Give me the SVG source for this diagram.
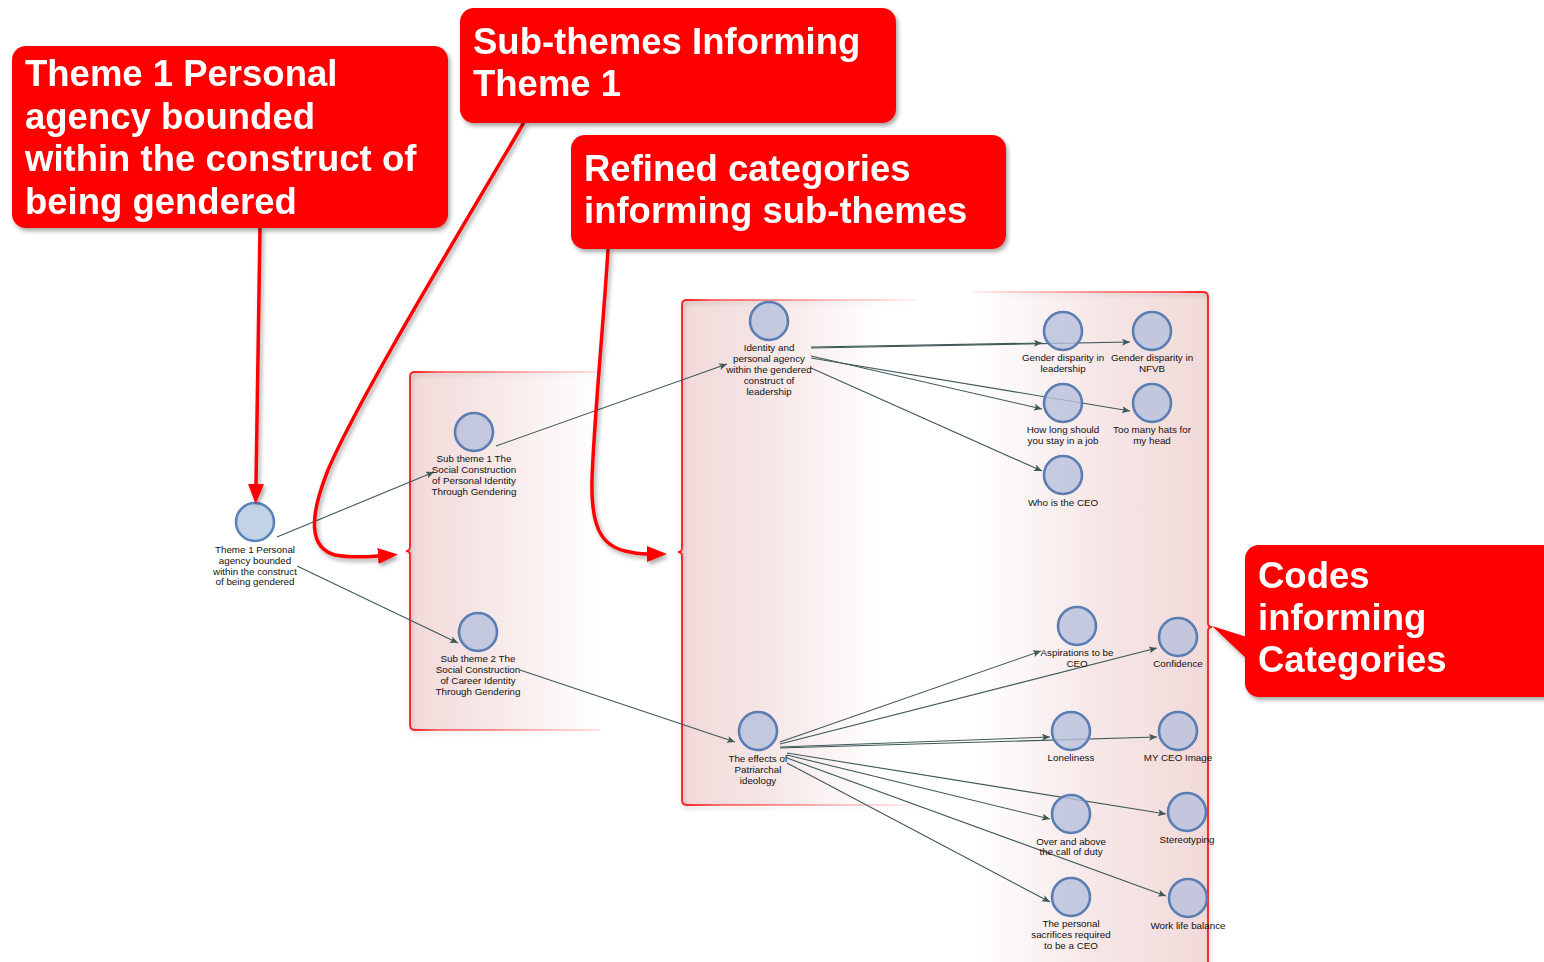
<svg xmlns="http://www.w3.org/2000/svg" width="1544" height="962" viewBox="0 0 1544 962">
  <defs>
    <style>
      .callout { fill: #ff0000; }
      .ctext { font-family: "Liberation Sans", Arial, sans-serif; font-weight: bold; font-size: 36.5px; fill: #ffffff; }
      .pointer { fill: none; stroke: #ff0000; stroke-width: 3.5; stroke-linecap: round; }
      .node { fill: #b6c1dc; fill-opacity: 0.8; stroke: #5a7db3; stroke-width: 2.6; }
      .root { fill: #c2d3e8; stroke: #5a84b8; stroke-width: 2.6; }
      .lbl { font-family: "Liberation Sans", Arial, sans-serif; font-size: 9.8px; fill: #111111; text-anchor: middle; }
      .edge { fill: none; stroke: #3f5858; stroke-width: 1.1; marker-end: url(#tip); }
      .frame { fill: none; stroke-width: 1.8; }
    </style>
    <marker id="tip" markerUnits="userSpaceOnUse" markerWidth="9" markerHeight="8" refX="8" refY="3.5" orient="auto">
      <path d="M0,0 L8,3.5 L0,7 L1.8,3.5 z" fill="#3f5858"/>
    </marker>
    <marker id="bigtip" markerUnits="userSpaceOnUse" markerWidth="21" markerHeight="16" refX="0" refY="8" orient="auto">
      <path d="M0,0 L20,8 L0,16 z" fill="#ff0000"/>
    </marker>
    <filter id="shadow" x="-10%" y="-10%" width="130%" height="130%">
      <feDropShadow dx="2" dy="3" stdDeviation="2" flood-color="#000" flood-opacity="0.35"/>
    </filter>
    <filter id="soft" x="-10%" y="-10%" width="130%" height="130%">
      <feDropShadow dx="1.5" dy="2.5" stdDeviation="2" flood-color="#000" flood-opacity="0.22"/>
    </filter>
    <!-- panel fills -->
    <linearGradient id="fillA" gradientUnits="userSpaceOnUse" x1="410" y1="0" x2="600" y2="0">
      <stop offset="0" stop-color="#f2d9d9"/>
      <stop offset="0.3" stop-color="#f5e3e3"/>
      <stop offset="1" stop-color="#ffffff"/>
    </linearGradient>
    <linearGradient id="fillB" gradientUnits="userSpaceOnUse" x1="682" y1="0" x2="915" y2="0">
      <stop offset="0" stop-color="#f2d9d9"/>
      <stop offset="0.3" stop-color="#f5e3e3"/>
      <stop offset="0.85" stop-color="#ffffff"/>
      <stop offset="1" stop-color="#ffffff"/>
    </linearGradient>
    <linearGradient id="fillC" gradientUnits="userSpaceOnUse" x1="973" y1="0" x2="1208" y2="0">
      <stop offset="0" stop-color="#ffffff"/>
      <stop offset="0.55" stop-color="#f6e6e6"/>
      <stop offset="1" stop-color="#f2d9d9"/>
    </linearGradient>
    <!-- panel borders -->
    <linearGradient id="edgeA" gradientUnits="userSpaceOnUse" x1="410" y1="0" x2="600" y2="0">
      <stop offset="0" stop-color="#ff1a1a" stop-opacity="1"/>
      <stop offset="0.15" stop-color="#ff1a1a" stop-opacity="0.6"/>
      <stop offset="1" stop-color="#ff1a1a" stop-opacity="0.1"/>
    </linearGradient>
    <linearGradient id="edgeB" gradientUnits="userSpaceOnUse" x1="682" y1="0" x2="915" y2="0">
      <stop offset="0" stop-color="#ff1a1a" stop-opacity="1"/>
      <stop offset="0.15" stop-color="#ff1a1a" stop-opacity="0.6"/>
      <stop offset="1" stop-color="#ff1a1a" stop-opacity="0.05"/>
    </linearGradient>
    <linearGradient id="edgeC" gradientUnits="userSpaceOnUse" x1="973" y1="0" x2="1208" y2="0">
      <stop offset="0" stop-color="#ff1a1a" stop-opacity="0.05"/>
      <stop offset="0.85" stop-color="#ff1a1a" stop-opacity="0.7"/>
      <stop offset="1" stop-color="#ff1a1a" stop-opacity="1"/>
    </linearGradient>
  </defs>

  <rect x="0" y="0" width="1544" height="962" fill="#ffffff"/>

  <!-- grouping panels -->
  <g id="panel-subthemes">
    <path d="M600,372 L415,372 Q410,372 410,377 L410,725 Q410,730 415,730 L600,730 Z" fill="url(#fillA)"/>
    <path class="frame" d="M600,372 L415,372 Q410,372 410,377 L410,547 Q410,551 406,551 Q410,551 410,555 L410,725 Q410,730 415,730 L600,730" stroke="url(#edgeA)" filter="url(#soft)"/>
  </g>
  <g id="panel-categories">
    <path d="M917,300 L687,300 Q682,300 682,305 L682,800 Q682,805 687,805 L917,805 Z" fill="url(#fillB)"/>
    <path class="frame" d="M917,300 L687,300 Q682,300 682,305 L682,548 Q682,552 678,552 Q682,552 682,556 L682,800 Q682,805 687,805 L917,805" stroke="url(#edgeB)" filter="url(#soft)"/>
  </g>
  <g id="panel-codes">
    <path d="M973,292 L1203,292 Q1208,292 1208,297 L1208,975 L973,975 Z" fill="url(#fillC)"/>
    <path class="frame" d="M973,292 L1203,292 Q1208,292 1208,297 L1208,623 Q1208,627 1212,627 Q1208,627 1208,631 L1208,975" stroke="url(#edgeC)" filter="url(#soft)"/>
  </g>

  <!-- connectors -->
  <g id="connectors">
    <path class="edge" d="M277,537 L434,472"/>
    <path class="edge" d="M297,566 L458,643"/>
    <path class="edge" d="M496,446 L727,364"/>
    <path class="edge" d="M520,670 L735,742"/>
    <path class="edge" d="M811,347 L1042,343"/>
    <path class="edge" d="M811,348 L1130,342"/>
    <path class="edge" d="M811,356 L1042,409"/>
    <path class="edge" d="M811,358 L1130,411"/>
    <path class="edge" d="M811,368 L1042,471"/>
    <path class="edge" d="M780,742 L1041,651"/>
    <path class="edge" d="M780,744 L1157,648"/>
    <path class="edge" d="M780,747 L1050,737"/>
    <path class="edge" d="M780,748 L1157,737"/>
    <path class="edge" d="M787,753 L1166,814"/>
    <path class="edge" d="M787,755 L1050,819"/>
    <path class="edge" d="M787,758 L1166,896"/>
    <path class="edge" d="M787,763 L1050,902"/>
  </g>

  <!-- nodes -->
  <g id="n-theme1">
    <circle class="root" cx="255" cy="522" r="19"/>
    <text class="lbl"><tspan x="255" y="553">Theme 1 Personal</tspan><tspan x="255" y="564">agency bounded</tspan><tspan x="255" y="575">within the construct</tspan><tspan x="255" y="585">of being gendered</tspan></text>
  </g>
  <g id="n-sub1">
    <circle class="node" cx="474" cy="432" r="19"/>
    <text class="lbl"><tspan x="474" y="462">Sub theme 1 The</tspan><tspan x="474" y="473">Social Construction</tspan><tspan x="474" y="484">of Personal Identity</tspan><tspan x="474" y="495">Through Gendering</tspan></text>
  </g>
  <g id="n-sub2">
    <circle class="node" cx="478" cy="632" r="19"/>
    <text class="lbl"><tspan x="478" y="662">Sub theme 2 The</tspan><tspan x="478" y="673">Social Construction</tspan><tspan x="478" y="684">of Career Identity</tspan><tspan x="478" y="695">Through Gendering</tspan></text>
  </g>
  <g id="n-identity">
    <circle class="node" cx="769" cy="321" r="19"/>
    <text class="lbl"><tspan x="769" y="351">Identity and</tspan><tspan x="769" y="362">personal agency</tspan><tspan x="769" y="373">within the gendered</tspan><tspan x="769" y="384">construct of</tspan><tspan x="769" y="395">leadership</tspan></text>
  </g>
  <g id="n-effects">
    <circle class="node" cx="758" cy="731" r="19"/>
    <text class="lbl"><tspan x="758" y="762">The effects of</tspan><tspan x="758" y="773">Patriarchal</tspan><tspan x="758" y="784">ideology</tspan></text>
  </g>
  <g id="n-disparity-leadership">
    <circle class="node" cx="1063" cy="331" r="19"/>
    <text class="lbl"><tspan x="1063" y="361">Gender disparity in</tspan><tspan x="1063" y="372">leadership</tspan></text>
  </g>
  <g id="n-disparity-nfvb">
    <circle class="node" cx="1152" cy="331" r="19"/>
    <text class="lbl"><tspan x="1152" y="361">Gender disparity in</tspan><tspan x="1152" y="372">NFVB</tspan></text>
  </g>
  <g id="n-how-long">
    <circle class="node" cx="1063" cy="403" r="19"/>
    <text class="lbl"><tspan x="1063" y="433">How long should</tspan><tspan x="1063" y="444">you stay in a job</tspan></text>
  </g>
  <g id="n-hats">
    <circle class="node" cx="1152" cy="403" r="19"/>
    <text class="lbl"><tspan x="1152" y="433">Too many hats for</tspan><tspan x="1152" y="444">my head</tspan></text>
  </g>
  <g id="n-who-ceo">
    <circle class="node" cx="1063" cy="475" r="19"/>
    <text class="lbl"><tspan x="1063" y="506">Who is the CEO</tspan></text>
  </g>
  <g id="n-aspirations">
    <circle class="node" cx="1077" cy="626" r="19"/>
    <text class="lbl"><tspan x="1077" y="656">Aspirations to be</tspan><tspan x="1077" y="667">CEO</tspan></text>
  </g>
  <g id="n-confidence">
    <circle class="node" cx="1178" cy="637" r="19"/>
    <text class="lbl"><tspan x="1178" y="667">Confidence</tspan></text>
  </g>
  <g id="n-loneliness">
    <circle class="node" cx="1071" cy="731" r="19"/>
    <text class="lbl"><tspan x="1071" y="761">Loneliness</tspan></text>
  </g>
  <g id="n-ceo-image">
    <circle class="node" cx="1178" cy="731" r="19"/>
    <text class="lbl"><tspan x="1178" y="761">MY CEO Image</tspan></text>
  </g>
  <g id="n-over-above">
    <circle class="node" cx="1071" cy="814" r="19"/>
    <text class="lbl"><tspan x="1071" y="845">Over and above</tspan><tspan x="1071" y="855">the call of duty</tspan></text>
  </g>
  <g id="n-stereotyping">
    <circle class="node" cx="1187" cy="812" r="19"/>
    <text class="lbl"><tspan x="1187" y="843">Stereotyping</tspan></text>
  </g>
  <g id="n-sacrifices">
    <circle class="node" cx="1071" cy="897" r="19"/>
    <text class="lbl"><tspan x="1071" y="927">The personal</tspan><tspan x="1071" y="938">sacrifices required</tspan><tspan x="1071" y="949">to be a CEO</tspan></text>
  </g>
  <g id="n-work-life">
    <circle class="node" cx="1188" cy="898" r="19"/>
    <text class="lbl"><tspan x="1188" y="929">Work life balance</tspan></text>
  </g>

  <!-- red annotation pointers -->
  <g id="pointers" filter="url(#shadow)">
    <path class="pointer" d="M260,229 L256,484" marker-end="url(#bigtip)"/>
    <path class="pointer" d="M523,124 C470,215 360,395 328,470 C308,520 310,548 335,555 C350,558 365,557 378,556" marker-end="url(#bigtip)"/>
    <path class="pointer" d="M608,250 C603,330 594,420 592,480 C591,525 600,545 625,551 C633,553 640,554 647,554" marker-end="url(#bigtip)"/>
  </g>

  <!-- annotation callouts -->
  <g id="callout-theme" filter="url(#shadow)">
    <rect class="callout" x="12" y="46" width="436" height="182" rx="14"/>
    <text class="ctext"><tspan x="25" y="86">Theme 1 Personal</tspan><tspan x="25" y="128.5">agency bounded</tspan><tspan x="25" y="171">within the construct of</tspan><tspan x="25" y="213.5">being gendered</tspan></text>
  </g>
  <g id="callout-subthemes" filter="url(#shadow)">
    <rect class="callout" x="460" y="8" width="436" height="115" rx="14"/>
    <text class="ctext"><tspan x="473" y="54">Sub-themes Informing</tspan><tspan x="473" y="96">Theme 1</tspan></text>
  </g>
  <g id="callout-categories" filter="url(#shadow)">
    <rect class="callout" x="571" y="135" width="435" height="114" rx="14"/>
    <text class="ctext"><tspan x="584" y="181">Refined categories</tspan><tspan x="584" y="223">informing sub-themes</tspan></text>
  </g>
  <g id="callout-codes" filter="url(#shadow)">
    <path class="callout" d="M1212,626 L1250,638 L1250,662 Z"/>
    <rect class="callout" x="1245" y="545" width="330" height="152" rx="14"/>
    <text class="ctext"><tspan x="1258" y="588">Codes</tspan><tspan x="1258" y="630">informing</tspan><tspan x="1258" y="672">Categories</tspan></text>
  </g>
</svg>
